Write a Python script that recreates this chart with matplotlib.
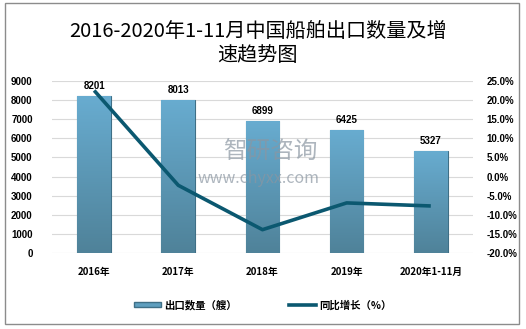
import numpy as np
import matplotlib
matplotlib.use("Agg")
import matplotlib.pyplot as plt
from matplotlib.patches import Rectangle
from matplotlib.lines import Line2D
from matplotlib.patches import Patch

plt.rcParams['font.family'] = ['Noto Sans CJK SC', 'DejaVu Sans']

# data
years = ["2016年", "2017年", "2018年", "2019年", "2020年1-11月"]
export_count = [8201, 8013, 6899, 6425, 5327]
growth_pct = [22.5, -2.3, -13.9, -6.9, -7.7]

title = "2016-2020年1-11月中国船舶出口数量及增\n速趋势图"
bar_label = "出口数量（艘）"
line_label = "同比增长（%）"

fig = plt.figure(figsize=(5.26, 3.29), dpi=100)
ax = fig.add_axes([0.099, 0.231, 0.800, 0.523])
ax2 = ax.twinx()

x = np.arange(len(years))
bars = ax.bar(x, export_count, width=0.4, color="#5f9fbf",
              edgecolor="#3f6f86", linewidth=0.8, zorder=2)

# vertical gradient inside each bar
grad = np.linspace(0, 1, 256).reshape(-1, 1)
cmap = matplotlib.colors.LinearSegmentedColormap.from_list("bar", ["#4f8299", "#68acd0"])
for b in bars:
    x0, w, h = b.get_x(), b.get_width(), b.get_height()
    im = ax.imshow(grad, cmap=cmap, aspect="auto", origin="lower",
                   extent=[x0, x0 + w, 0, h], zorder=2.5)
    im.set_clip_path(b)

for xi, v in zip(x, export_count):
    ax.text(xi, v + 250, str(v), ha="center", va="bottom", fontsize=7,
            fontweight="bold", family=["Liberation Sans", "DejaVu Sans"])

ax.set_xlim(-0.5, len(years) - 0.5)
ax.set_ylim(0, 9000)
ax.set_yticks(range(0, 9001, 1000))
ax.grid(axis="y", color="#d9d9d9", linewidth=0.8, zorder=0)
ax.set_axisbelow(True)
ax.set_xticks(x)
ax.set_xticklabels(years, fontsize=7, fontweight="bold")
ax.tick_params(axis="both", length=0, pad=10)
ax.tick_params(axis="y", pad=14)
for lab in ax.get_yticklabels():
    lab.set_fontsize(7)
    lab.set_fontweight("bold")
    lab.set_family(["Liberation Sans", "DejaVu Sans"])

ax2.plot(x, growth_pct, color="#0b5870", linewidth=2.6, zorder=5,
         solid_capstyle="butt")
ax2.set_ylim(-20, 25)
ax2.set_yticks(range(-20, 26, 5))
ax2.set_yticklabels([f"{t:.1f}%" for t in range(-20, 26, 5)])
ax2.tick_params(axis="y", length=0, pad=10)
for lab in ax2.get_yticklabels():
    lab.set_fontsize(7)
    lab.set_fontweight("bold")
    lab.set_family(["Liberation Sans", "DejaVu Sans"])

for a in (ax, ax2):
    for s in a.spines.values():
        s.set_visible(False)

# watermark, drawn on top of the plot area
fig.text(0.513, 0.538, "智研咨询", fontsize=17, color="#8a96a2", alpha=0.7,
         ha="center", va="center", zorder=10)
fig.text(0.492, 0.458, "www.chyxx.com", fontsize=11.5, color="#8a96a2", alpha=0.7,
         ha="center", va="center", zorder=10)

fig.text(0.49, 0.868, title, ha="center", va="center", fontsize=14.5,
         linespacing=1.25, fontweight="medium")

handles = [Patch(facecolor="#5f9fbf", edgecolor="#3f6f86"),
           Line2D([0], [0], color="#0b5870", linewidth=2.6)]
fig.legend(handles, [bar_label, line_label], loc="center",
           bbox_to_anchor=(0.5, 0.073), ncol=2, frameon=False,
           prop={"size": 7.5, "weight": "bold"}, handlelength=2.6,
           handleheight=0.5, columnspacing=5, handletextpad=0.3)

fig.patches.append(Rectangle((0.0095, 0.0152), 0.977, 0.976, transform=fig.transFigure,
                             fill=False, edgecolor="#8c8c8c", linewidth=1))

fig.savefig("out.png", dpi=100)
